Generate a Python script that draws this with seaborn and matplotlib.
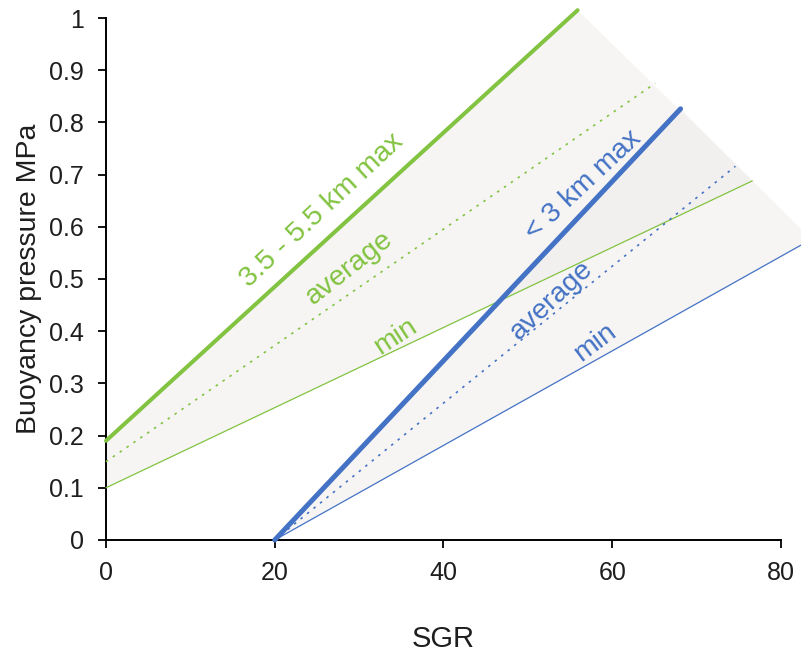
import numpy as np
import pandas as pd
import matplotlib
matplotlib.use("Agg")
import matplotlib.pyplot as plt
import seaborn as sns

# Line end points (SGR, buoyancy pressure in MPa)
green_max_x = [0, 55.9]
green_max_y = [0.19, 1.015]
green_avg_x = [0, 65.1]
green_avg_y = [0.15, 0.875]
green_min_x = [0, 76.6]
green_min_y = [0.10, 0.688]

blue_max_x = [20, 68.1]
blue_max_y = [0, 0.826]
blue_avg_x = [20, 74.6]
blue_avg_y = [0, 0.716]
blue_min_x = [20, 83.6]
blue_min_y = [0, 0.576]

x_ticks = [0, 20, 40, 60, 80]
y_ticks = [0, 0.1, 0.2, 0.3, 0.4, 0.5, 0.6, 0.7, 0.8, 0.9, 1]
y_tick_labels = ["0", "0.1", "0.2", "0.3", "0.4", "0.5", "0.6", "0.7", "0.8", "0.9", "1"]

GREEN = "#82c341"
BLUE = "#4472c4"
SHADE = "#efedeb"
INK = "#1e1e1e"

sns.set_theme(style="ticks")
plt.rcParams["font.family"] = ["Liberation Sans", "DejaVu Sans"]

fig = plt.figure(figsize=(8.01, 6.55), dpi=100)
ax = fig.add_axes([0.1323, 0.1756, 0.8427, 0.7969])

# Shaded envelopes of each depth band
ax.fill(green_max_x + green_min_x[::-1],
        green_max_y + green_min_y[::-1],
        color=SHADE, alpha=0.5, lw=0, clip_on=False, zorder=1)
ax.fill([blue_max_x[0], blue_max_x[1], blue_min_x[1]],
        [blue_max_y[0], blue_max_y[1], blue_min_y[1]],
        color=SHADE, alpha=0.5, lw=0, clip_on=False, zorder=1)

DOTS = (0, (1.5, 3.5))
lines = [
    (green_max_x, green_max_y, GREEN, 2.9, "-"),
    (green_avg_x, green_avg_y, GREEN, 1.2, DOTS),
    (green_min_x, green_min_y, GREEN, 0.9, "-"),
    (blue_max_x, blue_max_y, BLUE, 3.6, "-"),
    (blue_avg_x, blue_avg_y, BLUE, 1.2, DOTS),
    (blue_min_x, blue_min_y, BLUE, 0.9, "-"),
]
for xs, ys, c, lw, ls in lines:
    df = pd.DataFrame({"x": xs, "y": ys})
    sns.lineplot(data=df, x="x", y="y", ax=ax, color=c, lw=lw,
                 linestyle=ls, clip_on=False, zorder=3)

ax.set_xlim(0, 80)
ax.set_ylim(0, 1)
ax.set_xticks(x_ticks)
ax.set_yticks(y_ticks)
ax.set_yticklabels(y_tick_labels)
ax.tick_params(axis="both", labelsize=18, length=6, width=1.3,
               color="black", labelcolor=INK, direction="out")
ax.tick_params(axis="y", pad=10)
ax.tick_params(axis="x", pad=9)
for side in ("top", "right"):
    ax.spines[side].set_visible(False)
for side in ("left", "bottom"):
    ax.spines[side].set_color("black")
    ax.spines[side].set_linewidth(1.4)

ax.set_xlabel("SGR", fontsize=21, labelpad=29, color=INK)
ax.set_ylabel("Buoyancy pressure MPa", fontsize=20.5, labelpad=5, color=INK)

# Curve labels: text, position, on-screen angle, colour
labels = [
    ("3.5 - 5.5 km max", 25.6, 0.632, 43, GREEN),
    ("average", 28.8, 0.521, 38, GREEN),
    ("min", 34.3, 0.389, 33, GREEN),
    ("< 3 km max", 56.6, 0.68, 43, BLUE),
    ("average", 52.8, 0.46, 43, BLUE),
    ("min", 58.0, 0.379, 37, BLUE),
]
for txt, x, y, ang, c in labels:
    ax.text(x, y, txt, color=c, fontsize=20.5, ha="center", va="center",
            rotation=ang, rotation_mode="anchor", zorder=4)

fig.savefig("out.png", dpi=100)
